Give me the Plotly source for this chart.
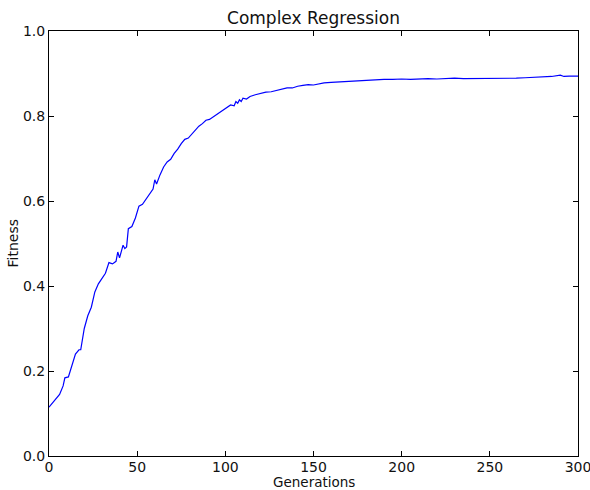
import plotly.graph_objects as go

generations = [0, 2, 4, 6, 8, 9, 11, 13, 15, 17, 18, 20, 22, 24, 26, 28, 30, 32, 34, 36,
               38, 39, 40, 42, 43, 44, 45, 47, 49, 51, 53, 55, 57, 59, 60, 61, 63, 65, 67, 69,
               71, 73, 75, 77, 79, 81, 83, 85, 87, 89, 91, 93, 95, 97, 99, 101, 103, 105, 106, 107,
               108, 109, 110, 112, 114, 117, 120, 123, 126, 129, 132, 135, 138, 141, 144, 147, 150, 153, 156, 160,
               164, 168, 172, 176, 180, 185, 190, 195, 200, 205, 210, 215, 220, 225, 230, 235, 240, 245, 250, 255,
               260, 265, 270, 275, 280, 285, 290, 292, 295, 300]
fitness = [0.115, 0.125, 0.135, 0.145, 0.165, 0.184, 0.186, 0.215, 0.240, 0.250, 0.250, 0.300, 0.330, 0.350, 0.386, 0.405, 0.418, 0.430, 0.455, 0.452,
           0.458, 0.480, 0.466, 0.496, 0.488, 0.492, 0.535, 0.540, 0.560, 0.588, 0.592, 0.605, 0.618, 0.628, 0.650, 0.640, 0.662, 0.680, 0.692, 0.698,
           0.712, 0.722, 0.735, 0.745, 0.748, 0.757, 0.768, 0.776, 0.782, 0.790, 0.792, 0.798, 0.802, 0.808, 0.814, 0.820, 0.826, 0.824, 0.834, 0.830,
           0.838, 0.834, 0.842, 0.840, 0.846, 0.850, 0.853, 0.856, 0.857, 0.860, 0.862, 0.866, 0.866, 0.870, 0.872, 0.874, 0.873, 0.876, 0.878, 0.879,
           0.880, 0.881, 0.882, 0.883, 0.884, 0.885, 0.886, 0.886, 0.887, 0.886, 0.887, 0.888, 0.887, 0.888, 0.889, 0.888, 0.888, 0.889, 0.888, 0.888,
           0.889, 0.889, 0.890, 0.891, 0.891, 0.893, 0.896, 0.893, 0.894, 0.894]

x_ticks = [0, 50, 100, 150, 200, 250, 300]
y_ticks = [0.0, 0.2, 0.4, 0.6, 0.8, 1.0]
y_tick_labels = ["0.0", "0.2", "0.4", "0.6", "0.8", "1.0"]

FONT = "DejaVu Sans"

fig = go.Figure()
fig.add_trace(go.Scatter(x=generations, y=fitness, mode="lines",
                         line=dict(color="#0000ff", width=1.2), showlegend=False))

axis_common = dict(showline=True, linecolor="black", linewidth=1, mirror="allticks",
                   ticks="inside", ticklen=5, tickcolor="black", tickwidth=1,
                   showgrid=False, zeroline=False, ticklabeloverflow="allow", automargin=False,
                   tickfont=dict(family=FONT, size=14, color="#111"))

fig.update_xaxes(range=[0, 300], tickvals=x_ticks, ticklabelstandoff=-2, **axis_common)
fig.update_yaxes(range=[0, 1.0], tickvals=y_ticks, ticktext=y_tick_labels, **axis_common)

fig.update_layout(
    width=590, height=490,
    margin=dict(l=49, r=12, t=31, b=34),
    paper_bgcolor="white", plot_bgcolor="white",
    font=dict(family=FONT, color="#111"),
    title=dict(text="Complex Regression", x=0.5, xref="paper", y=1 - 18 / 490, yref="container",
               xanchor="center", yanchor="middle", font=dict(family=FONT, size=17, color="#111")),
    annotations=[
        dict(text="Generations", xref="paper", yref="paper", x=0.5, y=0, yshift=-26,
             xanchor="center", yanchor="middle", showarrow=False, borderpad=0,
             font=dict(family=FONT, size=13.5, color="#111")),
        dict(text="Fitness", xref="paper", yref="paper", x=0, y=0.5, xshift=-37, textangle=-90,
             xanchor="center", yanchor="middle", showarrow=False, borderpad=0,
             font=dict(family=FONT, size=14, color="#111")),
    ],
)

fig.write_html("out.html", config={"displayModeBar": False},
               post_script="document.body.style.margin='0';document.body.style.overflow='hidden';")
